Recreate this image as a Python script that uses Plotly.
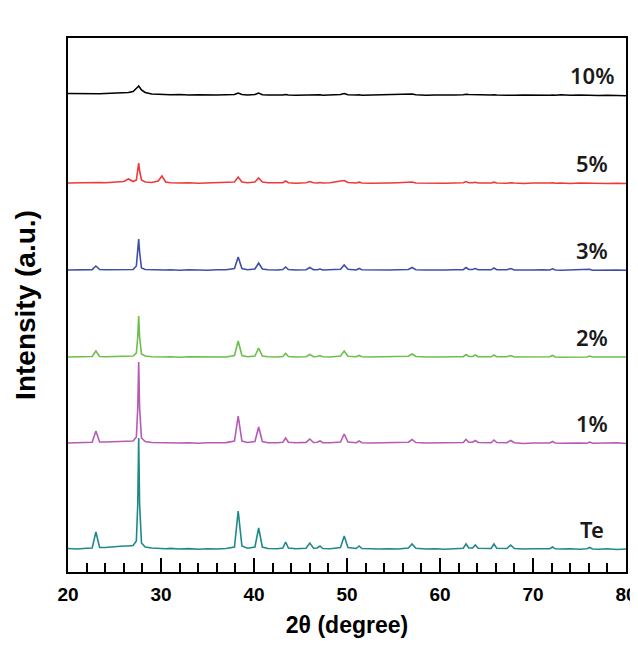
import plotly.graph_objects as go

# 2-theta sample positions (degrees)
two_theta = [
    20, 21, 22, 22.6, 23.0, 23.4, 24, 25, 26, 26.5,
    27.0, 27.35, 27.5, 27.6, 27.7, 27.9, 28.3, 29, 29.7, 30.1,
    30.5, 31, 32, 33, 34, 35, 36, 37, 37.9, 38.3,
    38.7, 39.3, 40.1, 40.5, 40.9, 41.5, 42.5, 43.1, 43.4, 43.7,
    44.5, 45.6, 46.0, 46.4, 46.8, 47.1, 47.4, 48.2, 49.3, 49.7,
    50.1, 51.0, 51.3, 51.6, 52.5, 53.5, 54.5, 55.5, 56.6, 57.0,
    57.4, 58.5, 59.5, 60.5, 61.5, 62.5, 62.8, 63.1, 63.5, 63.8,
    64.1, 65.0, 65.5, 65.8, 66.1, 67.2, 67.6, 68.0, 69, 70,
    71, 71.8, 72.1, 72.4, 73, 74, 75, 75.8, 76.1, 76.4,
    77, 78, 79, 80,
]

# Intensities (a.u.), relative to each pattern's baseline
te = [
    0.5, 0, 0.8, 1, 17, 1.5, 1.5, 2.5, 3, 3,
    3.5, 8, 45, 111, 45, 6, 2, 1, 0.5, 0.8,
    0.3, 0.6, 0, 0.4, -0.2, 0.3, 0, 0.5, 2, 38,
    3, 0.8, 2, 21, 2, 0.5, 0.3, 1, 7, 1,
    0.3, 0.8, 6, 0.8, 1, 3, 0.5, 0.3, 1.5, 13,
    1.5, 0.5, 3, 0.5, 0.2, 0, 0.3, 0, 1, 5,
    0.8, 0, 0.3, -0.2, 0.2, 0.8, 5, 1, 1, 4,
    0.8, 0.3, 0.5, 5, 0.8, 0.5, 4, 0.5, 0, 0.3,
    0, 0.3, 2, 0.2, 0, 0.3, -0.2, 0.2, 1.5, 0,
    -0.3, 0.2, -0.5, 0,
]
pct1 = [
    0, 0.5, 0.3, 0.8, 12, 1, 1, 1.5, 1.5, 2,
    2, 6, 35, 81, 35, 5, 1.5, 0.5, 0.3, 0.8,
    0.2, 0.5, 0, 0.3, -0.2, 0.3, 0, 0.4, 2, 27,
    2, 0.5, 1.5, 16, 1.5, 0.3, 0.2, 0.8, 5, 0.8,
    0.2, 0.6, 4, 0.5, 0.8, 2, 0.3, 0.2, 1, 9,
    1, 0.3, 2, 0.3, 0, 0.2, 0, 0.2, 0.8, 3.5,
    0.5, 0, 0.2, -0.3, 0, 0.5, 3.5, 0.8, 0.8, 2.5,
    0.5, 0, 0.3, 3, 0.5, 0.3, 2.5, 0.3, -0.5, 0,
    0.2, 0, 1.5, 0, -0.3, 0.2, 0, -0.2, 1, -0.2,
    0, -0.3, 0.2, -0.5,
]
pct2 = [
    0, 0.3, 0.2, 0.5, 6, 0.5, 0.3, 0.5, 0.5, 0.8,
    1, 4, 20, 41, 20, 3, 1, 0.3, 0, 0.5,
    0, 0.3, -0.2, 0.2, 0, -0.3, 0.2, 0, 1.5, 16,
    1.5, 0.3, 1, 9, 1, 0.2, 0, 0.5, 3.5, 0.5,
    0, 0.3, 2.5, 0.3, 0.5, 1.5, 0.2, 0, 1, 6,
    0.8, 0.2, 1.5, 0.2, 0, 0.2, -0.2, 0, 0.8, 3,
    0.5, 0, -0.2, 0, 0.2, 0.3, 2.5, 0.5, 0.5, 2,
    0.3, 0, 0.2, 2, 0.3, 0.2, 1.5, 0, 0.2, -0.2,
    0, 0.2, 1.5, 0, -0.2, 0, 0.2, 0, 1, 0,
    0, -0.2, 0.2, 0,
]
pct3 = [
    0, 0.3, 0, 0.4, 4, 0.5, 0.2, 0.3, 0.2, 0.5,
    0.5, 4, 18, 31, 18, 2, 0.5, 0.2, 0, 0.3,
    0, 0.2, -0.2, 0.3, 0, -0.2, 0.2, 0.3, 1.5, 13,
    1.5, 0.3, 1, 7, 1, 0.2, 0, 0.5, 3, 0.5,
    0, 0.3, 2.5, 0.3, 0.3, 1, 0, 0.2, 0.8, 5,
    0.8, 0, 1.5, 0.2, 0, -0.2, 0, 0.2, 0.5, 2.5,
    0.3, 0, -0.2, 0, 0.2, 0.3, 2.5, 0.5, 0.5, 1.5,
    0.3, 0, 0.2, 2, 0.3, 0.2, 1.5, 0, -0.2, 0,
    0.2, 0, 1.2, 0, -0.2, 0, 0.2, 0, 0.8, -0.2,
    0, -0.2, 0, -0.3,
]
pct5 = [
    0, 0.3, 0.5, 0.3, 1, 0.5, 0.3, 0.8, 1.5, 4,
    1.5, 3, 12, 20, 12, 3, 1, 0.5, 2, 7,
    1, 0.3, 0, 0.3, -0.3, 0, -0.3, 0.3, 1, 6,
    1, 0.3, 1, 5, 1, 0.2, -0.2, 0.3, 2, 0.3,
    -0.3, 0.3, 1.5, 0.2, 0, 0.5, 0, 0.3, 2, 2.5,
    0.5, 0, 0.8, 0, -0.3, 0.2, 0, 0.3, 0.3, 1,
    0, -0.3, 0, -0.3, 0, 0.3, 1.5, 0.3, 0.3, 0.8,
    0, -0.3, 0, 0.8, 0, -0.3, 0.3, 0, -0.5, 0,
    -0.3, 0, 0.3, -0.3, 0, -0.5, 0, -0.3, 0, -0.5,
    0, -0.5, -0.3, -0.5,
]
pct10 = [
    1.5, 1.3, 1.5, 1.2, 1.5, 1.3, 1.5, 1.8, 2, 2.5,
    3.5, 6, 8, 9, 8, 5, 2.5, 1, 0.8, 0.5,
    0.8, 0.3, 0.5, 0, 0.3, -0.2, 0, 0.3, 0.5, 2,
    0.5, 0, 0.5, 2, 0.3, 0, -0.3, 0, 0.5, 0,
    -0.3, 0, 0.3, -0.3, 0, 0.3, -0.2, 0, 0.5, 1.5,
    0.3, 0, 0.3, -0.2, 0, -0.3, 0.3, 0, 0.5, 1,
    0.2, -0.3, 0, -0.2, 0, 0.3, 0.8, 0.5, 0.3, 0.2,
    0, -0.3, 0, 0.3, 0, -0.3, 0, -0.2, 0, -0.3,
    0, -0.3, 0, -0.2, 0.2, -0.3, 0, -0.5, 0, -0.3,
    -0.5, -0.2, -0.5, -0.8,
]

series_names = ["Te", "1%", "2%", "3%", "5%", "10%"]
series_values = [te, pct1, pct2, pct3, pct5, pct10]
stack_offsets = [0, 106, 192, 279, 366, 454]
colors = ["#1e8a88", "#b65ab3", "#6cbf4a", "#3f4fa8", "#ec3a3c", "#000000"]

fig = go.Figure()
for name, vals, off, col in zip(series_names, series_values, stack_offsets, colors):
    fig.add_trace(go.Scatter(
        x=two_theta,
        y=[v + off for v in vals],
        mode="lines",
        line=dict(color=col, width=1.6),
        name=name,
        showlegend=False,
    ))
    fig.add_annotation(
        x=76.35, y=off + 20, text=name, showarrow=False,
        xanchor="center", yanchor="middle",
        font=dict(family="Noto Sans, Open Sans, sans-serif", size=22,
                  color="#1a1a1a", weight=600),
    )

fig.update_layout(
    width=630, height=630,
    margin=dict(l=60, r=12, t=30, b=66, autoexpand=False),
    paper_bgcolor="white", plot_bgcolor="white",
    xaxis=dict(
        range=[20, 80], dtick=10, tick0=20, automargin=False,
        showline=True, linecolor="black", linewidth=2, mirror=True,
        ticks="inside", ticklen=14, tickwidth=2, tickcolor="black",
        minor=dict(dtick=2, tick0=20, ticks="inside", ticklen=9,
                   tickwidth=1.5, tickcolor="black"),
        showgrid=False, zeroline=False,
        tickfont=dict(family="Liberation Sans, Arial",
                      size=19, color="black", weight="bold"),
        ticklabelstandoff=4,
        ticklabeloverflow="allow",
        title=dict(text="2θ (degree)",
                   font=dict(family="Liberation Sans, Arial",
                             size=23, color="black", weight="bold"),
                   standoff=16),
    ),
    yaxis=dict(
        range=[-23, 511], automargin=False,
        showline=True, linecolor="black", linewidth=2, mirror=True,
        ticks="", showticklabels=False, showgrid=False, zeroline=False,
        title=dict(text="Intensity (a.u.)",
                   font=dict(family="Liberation Sans, Arial", size=28,
                             color="black", weight="bold"),
                   standoff=22),
    ),
)

fig.write_html("out.html", default_width="630px", default_height="630px")
